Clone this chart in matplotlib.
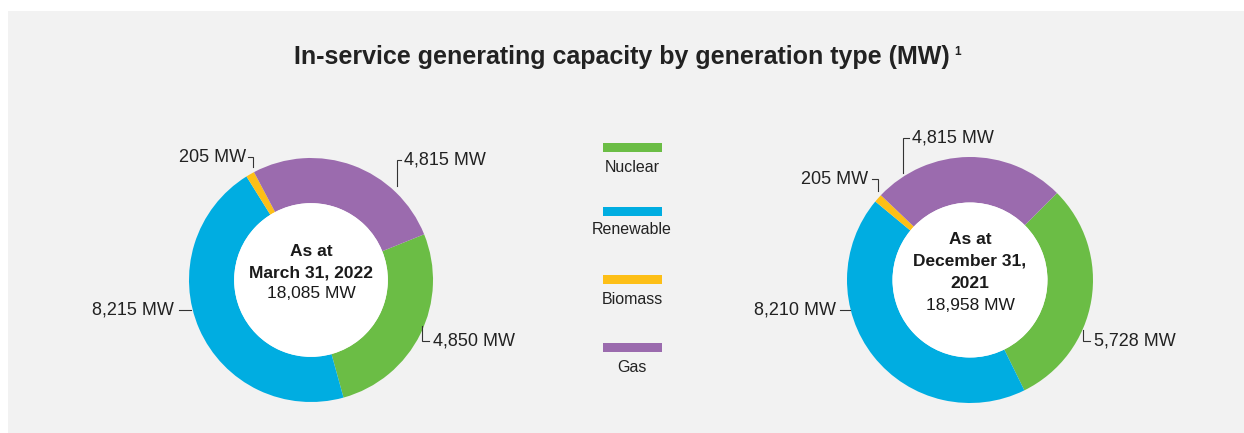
import matplotlib
matplotlib.use("Agg")
import matplotlib.pyplot as plt
from matplotlib.patches import Rectangle, Circle

# ---------------- data ----------------
categories = ["Nuclear", "Renewable", "Biomass", "Gas"]
values_mar2022 = [4850, 8215, 205, 4815]
values_dec2021 = [5728, 8210, 205, 4815]
total_mar2022 = "18,085 MW"
total_dec2021 = "18,958 MW"
title_mar2022 = ["As at", "March 31, 2022"]
title_dec2021 = ["As at", "December 31,", "2021"]
colors = ["#6BBD45", "#00ADE1", "#FDBF17", "#9B6BAE"]

chart_title = "In-service generating capacity by generation type (MW)"
footnote_mark = "1"

W, H = 1244, 433
FONT = "Liberation Sans"
plt.rcParams["font.family"] = [FONT, "DejaVu Sans"]

fig = plt.figure(figsize=(W / 100, H / 100), dpi=100)
fig.patch.set_facecolor("white")

def px_axes(x0, y0, w, h, z):
    ax = fig.add_axes([x0 / W, 1 - (y0 + h) / H, w / W, h / H])
    ax.set_zorder(z)
    ax.patch.set_alpha(0)
    ax.axis("off")
    return ax

# background panel
bg = px_axes(0, 0, W, H, 0)
bg.set_xlim(0, W); bg.set_ylim(H, 0)
bg.add_patch(Rectangle((8, 11), W - 8, H - 11, facecolor="#F2F2F2", edgecolor="none"))

# overlay for text
ov = px_axes(0, 0, W, H, 3)
ov.set_xlim(0, W); ov.set_ylim(H, 0)

def donut(cx, cy, r, vals, start):
    ax = px_axes(cx - r, cy - r, 2 * r, 2 * r, 1)
    ax.pie(vals, colors=colors, startangle=start, counterclock=False, radius=1.0,
           wedgeprops=dict(width=0.37, edgecolor="none", linewidth=0))
    ax.add_patch(Circle((0, 0), 0.63, facecolor="white", edgecolor="none"))
    ax.set_xlim(-1, 1); ax.set_ylim(-1, 1)
    return ax

donut(311, 280, 122, values_mar2022, 22)
donut(970, 280, 123, values_dec2021, 45)

# title
t = ov.text(622, 64, chart_title, ha="center", va="baseline", fontsize=18,
            fontweight="bold", color="#222222")
fig.canvas.draw()
bb = t.get_window_extent(fig.canvas.get_renderer())
ov.text(bb.x1 + 4, 55, footnote_mark, ha="left", va="baseline", fontsize=8.5,
        fontweight="bold", color="#222222")

# center texts
def center_text(cx, ys, lines, total):
    for y, s in zip(ys[:-1], lines):
        ov.text(cx, y, s, ha="center", va="center", fontsize=12.5, fontweight="bold", color="#1a1a1a")
    ov.text(cx, ys[-1], total, ha="center", va="center", fontsize=12.5, color="#1a1a1a")

center_text(311, [252, 273, 294], title_mar2022, total_mar2022)
center_text(970, [239, 261, 283, 305], title_dec2021, total_dec2021)

# value labels with leader lines
def fmt(v):
    return f"{v:,} MW"

def label(v, tx, ty, ha, pts):
    ov.text(tx, ty, fmt(v), ha=ha, va="center", fontsize=13, color="#222222")
    xs, ys = zip(*pts)
    ov.plot(xs, ys, color="#333333", lw=0.8, solid_joinstyle="miter")

# March 2022: nuclear, renewable, biomass, gas
label(values_mar2022[0], 433, 341, "left", [(422, 326), (422, 341), (429, 341)])
label(values_mar2022[1], 174, 310, "right", [(179, 310), (191, 310)])
label(values_mar2022[2], 246, 157, "right", [(248, 157), (253, 157), (253, 167)])
label(values_mar2022[3], 404, 160, "left", [(401, 160), (397, 160), (397, 186)])

# December 2021
label(values_dec2021[0], 1094, 341, "left", [(1083, 330), (1083, 341), (1090, 341)])
label(values_dec2021[1], 836, 310, "right", [(840, 310), (850, 310)])
label(values_dec2021[2], 868, 179, "right", [(872, 179), (878, 179), (878, 191)])
label(values_dec2021[3], 912, 138, "left", [(909, 138), (903, 138), (903, 173)])

# legend
bar_ys = [147, 211, 279, 347]
lab_ys = [167, 230, 299, 367]
for c, name, by, ly in zip(colors, categories, bar_ys, lab_ys):
    ov.add_patch(Rectangle((603, by - 4.5), 59, 9, facecolor=c, edgecolor="none"))
    ov.text(632, ly, name, ha="center", va="center", fontsize=11.5, color="#222222")

fig.savefig("out.png", dpi=100, facecolor=fig.get_facecolor())
